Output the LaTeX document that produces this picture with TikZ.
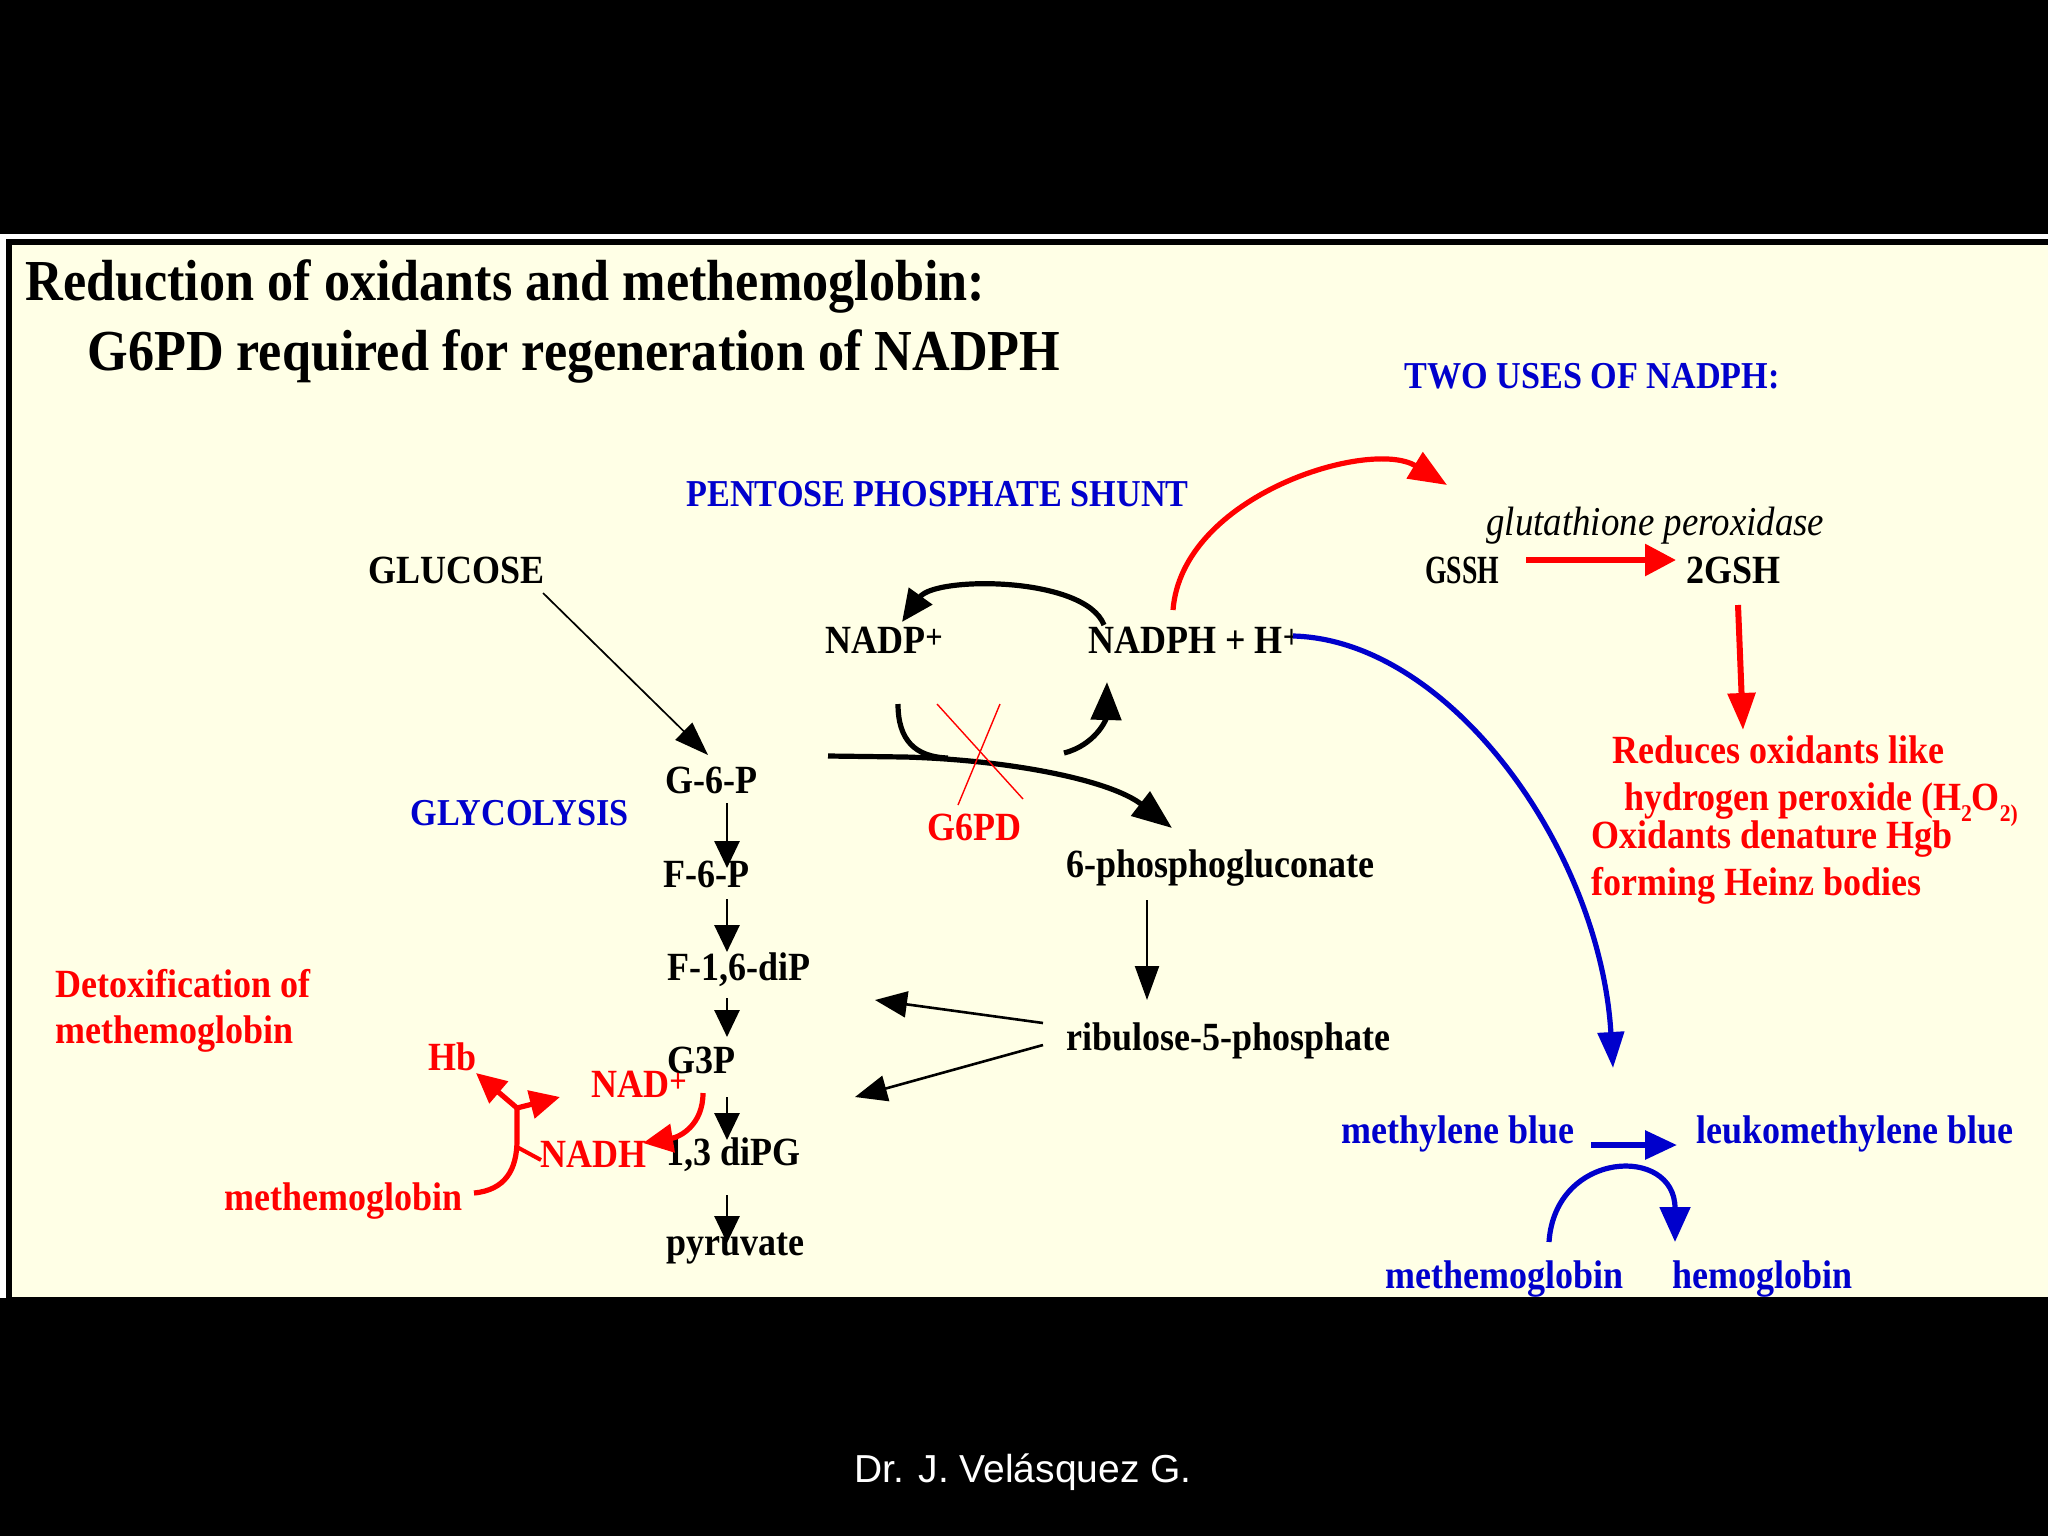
\documentclass[tikz,border=0pt]{standalone}
\usepackage{fontspec}
\setmainfont{Liberation Serif}
\newfontfamily\tnr{Liberation Serif}[FakeStretch=0.9]
\newfontfamily\arialf{Liberation Sans}
\usetikzlibrary{arrows.meta}
\definecolor{cream}{HTML}{FFFFE6}
\definecolor{dblue}{HTML}{0000CC}
\definecolor{pred}{HTML}{FF0000}
\newcommand\smallplus{\raisebox{0.12em}{\fontsize{17}{17}\selectfont +}}
\newcommand\subtwo[1]{\raisebox{-0.28em}{\fontsize{12}{12}\selectfont #1}}
\tikzset{
  lbl/.style={inner sep=0pt, anchor=base west, font={\tnr\bfseries\fontsize{20}{24}\selectfont}},
  ttl/.style={inner sep=0pt, anchor=base west, font={\tnr\bfseries\fontsize{29}{34}\selectfont}},
  hdr/.style={inner sep=0pt, anchor=base west, text=dblue, font={\tnr\bfseries\fontsize{19}{23}\selectfont}},
  itl/.style={inner sep=0pt, anchor=base west, font={\tnr\itshape\fontsize{20.5}{24}\selectfont}},
  redl/.style={lbl, text=pred},
  bluel/.style={lbl, text=dblue},
  thk/.style={line width=2.6pt},
  glyarr/.style={line width=1.4pt, -{Triangle[length=13.5pt,width=12.5pt]}},
  ribarr/.style={line width=1.3pt, -{Triangle[length=16pt,width=13pt]}},
  thinarr/.style={line width=0.85pt, -{Triangle[length=17pt,width=12pt]}},
  bigtip/.style={-{Triangle[length=19pt,width=15pt]}},
  midtip/.style={-{Triangle[length=16pt,width=14pt]}},
  cross/.style={pred, line width=0.7pt}
}
\begin{document}
\begin{tikzpicture}[x=0.5pt,y=-0.5pt]
\useasboundingbox (0,0) rectangle (2048,1536);
% background and panel
\fill[black] (0,0) rectangle (2048,1536);
\fill[white] (0,234) rectangle (2048,1298);
\fill[black] (6,239) rectangle (2048,1300);
\fill[cream] (12,245) rectangle (2048,1297);

% titles
\node[ttl] (t1) at (25,300) {Reduction of oxidants and methemoglobin:};
\node[ttl] (t2) at (87,370) {G6PD required for regeneration of NADPH};

% headers
\node[hdr] (twouses) at (1404,388) {TWO USES OF NADPH:};
\node[hdr] (pps) at (686,506) {PENTOSE PHOSPHATE SHUNT};
\node[hdr] (glyco) at (410,825) {GLYCOLYSIS};

% black labels
\node[itl] (gpx) at (1486,535) {glutathione peroxidase};
\node[lbl] (gssh) at (1425,583) {\scalebox{0.77}[1]{GSSH}};
\node[lbl] (gsh) at (1686,583) {2GSH};
\node[lbl] (glucose) at (368,583) {GLUCOSE};
\node[lbl] (nadp) at (825,653) {NADP\smallplus};
\node[lbl] (nadph) at (1088,653) {NADPH + H\smallplus};
\node[lbl] (g6p) at (665,793) {G-6-P};
\node[lbl] (f6p) at (663,887) {F-6-P};
\node[lbl] (f16) at (667,980) {F-1,6-diP};
\node[lbl] (g3p) at (667,1073) {G3P};
\node[lbl] (dpg) at (666,1165) {1,3 diPG};
\node[lbl] (pyr) at (666,1255) {pyruvate};
\node[lbl] (pgl) at (1066,877) {6-phosphogluconate};
\node[lbl] (ru5p) at (1066,1050) {ribulose-5-phosphate};

% red labels
\node[redl] (g6pd) at (927,840) {G6PD};
\node[redl] (red1) at (1612,763) {Reduces oxidants like};
\node[redl] (red2) at (1624,810) {hydrogen peroxide (H\subtwo{2}O\subtwo{2)}};
\node[redl] (red3) at (1591,848) {Oxidants denature Hgb};
\node[redl] (red4) at (1591,895) {forming Heinz bodies};
\node[redl] (detox1) at (55,997) {Detoxification of};
\node[redl] (detox2) at (55,1043) {methemoglobin};
\node[redl] (hb) at (428,1070) {Hb};
\node[redl] (nadplus) at (591,1097) {NAD\smallplus};
\node[redl] (nadh) at (540,1167) {NADH};
\node[redl] (methr) at (224,1210) {methemoglobin};

% blue labels
\node[bluel] (mb) at (1341,1143) {methylene blue};
\node[bluel] (lmb) at (1696,1143) {leukomethylene blue};
\node[bluel] (methb) at (1385,1288) {methemoglobin};
\node[bluel] (hgb) at (1672,1288) {hemoglobin};

% footer
\node[inner sep=0pt, anchor=base, text=white, font={\arialf\fontsize{19.5}{23}\selectfont}] (footer) at (1023,1482) {Dr. J. Velásquez G.};

% ---- connector end points ----
\coordinate (glcA) at (543,593);   \coordinate (glcB) at (708,755);
\coordinate (a1s) at (727,803);    \coordinate (a1e) at (727,868);
\coordinate (a2s) at (727,899);    \coordinate (a2e) at (727,952);
\coordinate (a3s) at (727,998);    \coordinate (a3e) at (727,1037);
\coordinate (a4s) at (727,1097);   \coordinate (a4e) at (727,1140);
\coordinate (a5s) at (727,1195);   \coordinate (a5e) at (727,1243);
\coordinate (pgA) at (1147,900);   \coordinate (pgB) at (1147,1000);
\coordinate (ruA) at (1043,1023);  \coordinate (ruB) at (875,1000);
\coordinate (ruC) at (1043,1045);  \coordinate (ruD) at (855,1097);
\coordinate (mainA) at (828,756);  \coordinate (mainB) at (905,757);
\coordinate (mainC) at (1172,828);
\coordinate (lsA) at (898,704);    \coordinate (lsB) at (948,758);
\coordinate (rsA) at (1064,753);   \coordinate (rsB) at (1107,682);
\coordinate (topA) at (1104,625);  \coordinate (topB) at (902,622);
\coordinate (xa) at (937,704);     \coordinate (xb) at (1023,799);
\coordinate (xc) at (1000,704);    \coordinate (xd) at (958,805);
\coordinate (rarcA) at (1173,610); \coordinate (rarcB) at (1447,485);
\coordinate (gsA) at (1526,560);   \coordinate (gsB) at (1676,560);
\coordinate (gdA) at (1738,605);   \coordinate (gdB) at (1743,730);
\coordinate (bcA) at (1293,636);   \coordinate (bcB) at (1613,1068);
\coordinate (mbA) at (1591,1145);  \coordinate (mbB) at (1677,1145);
\coordinate (baA) at (1549,1242);  \coordinate (baB) at (1675,1242);
\coordinate (g3A) at (703,1093);   \coordinate (g3B) at (643,1143);
\coordinate (mtA) at (474,1193);   \coordinate (junc) at (517,1108);
\coordinate (hbT) at (476,1073);   \coordinate (naT) at (560,1097);
\coordinate (tkA) at (517,1147);   \coordinate (tkB) at (541,1160);

% ---- black connectors ----
\draw[thinarr] (glcA) -- (glcB);
\draw[glyarr] (a1s) -- (a1e);
\draw[glyarr] (a2s) -- (a2e);
\draw[glyarr] (a3s) -- (a3e);
\draw[glyarr] (a4s) -- (a4e);
\draw[glyarr] (a5s) -- (a5e);
\draw[line width=1.1pt, -{Triangle[length=17pt,width=12pt]}] (pgA) -- (pgB);
\draw[ribarr] (ruA) -- (ruB);
\draw[ribarr] (ruC) -- (ruD);
\draw[thk, -{Triangle[length=20pt,width=15pt]}] (mainA) -- (mainB) .. controls (1010,760) and (1110,780) .. (mainC);
\draw[thk] (lsA) .. controls (898,740) and (915,757) .. (lsB);
\draw[thk, bigtip] (rsA) .. controls (1095,745) and (1106,720) .. (rsB);
\draw[thk, midtip] (topA) .. controls (1085,576) and (935,576) .. (topB);
\draw[cross] (xa) -- (xb);
\draw[cross] (xc) -- (xd);

% ---- red connectors ----
\draw[thk, pred, bigtip] (rarcA) .. controls (1182,495) and (1370,438) .. (rarcB);
\draw[line width=3pt, pred, -{Triangle[length=15.5pt,width=15.5pt]}] (gsA) -- (gsB);
\draw[line width=3pt, pred, -{Triangle[length=18.5pt,width=13.5pt]}] (gdA) -- (gdB);
\draw[thk, pred, -{Triangle[length=15pt,width=14pt]}] (g3A) .. controls (703,1125) and (680,1137) .. (g3B);
\draw[thk, pred] (mtA) .. controls (505,1190) and (517,1170) .. (517,1140) -- (junc);
\draw[thk, pred, -{Triangle[length=15pt,width=14pt]}] (junc) -- (hbT);
\draw[thk, pred, -{Triangle[length=15pt,width=14pt]}] (junc) -- (naT);
\draw[line width=2pt, pred] (tkA) -- (tkB);

% ---- blue connectors ----
\draw[thk, dblue, -{Triangle[length=18pt,width=13pt]}] (bcA) .. controls (1450,640) and (1600,850) .. (bcB);
\draw[line width=3pt, dblue, -{Triangle[length=16pt,width=14pt]}] (mbA) -- (mbB);
\draw[thk, dblue, -{Triangle[length=17.5pt,width=15pt]}] (baA) .. controls (1555,1150) and (1675,1145) .. (baB);
\end{tikzpicture}
\end{document}
